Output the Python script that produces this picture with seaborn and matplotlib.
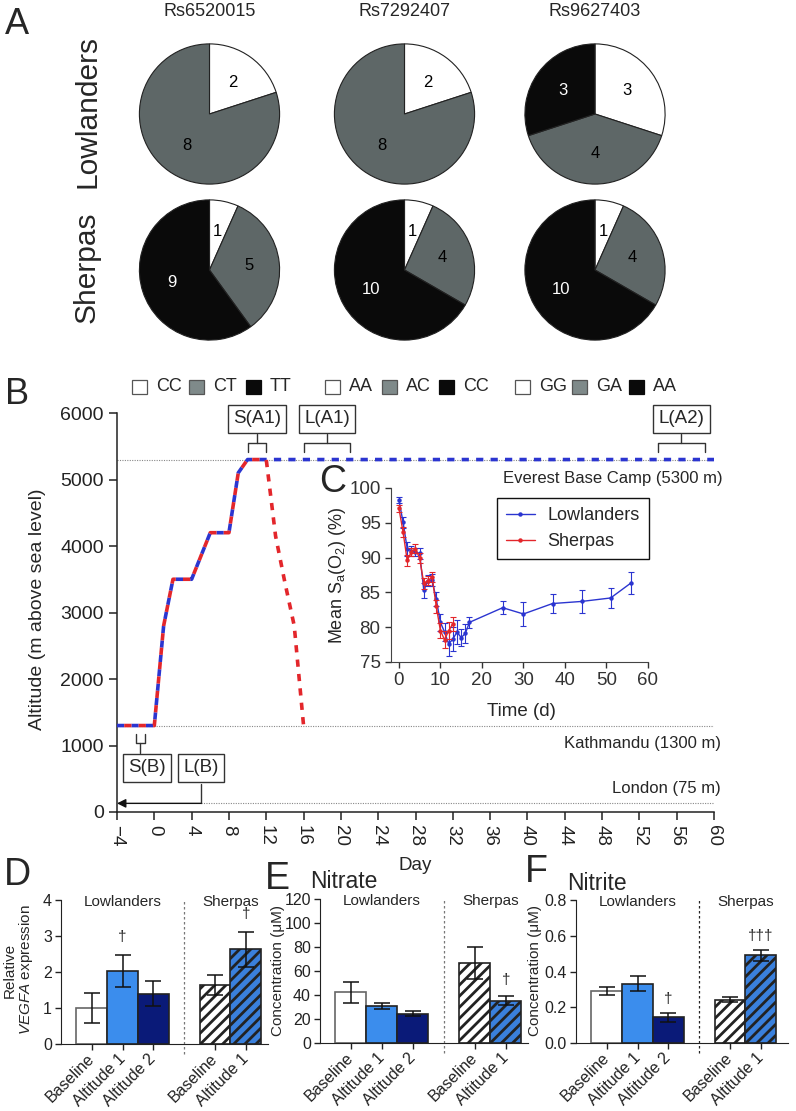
import matplotlib
matplotlib.use("Agg")
import matplotlib.pyplot as plt
from matplotlib.patches import Rectangle
from matplotlib.lines import Line2D
import pandas as pd
import seaborn as sns

# ---------------- data ----------------
snp_ids = ["Rs6520015", "Rs7292407", "Rs9627403"]
snp_genotypes = [["CC", "CT", "TT"], ["AA", "AC", "CC"], ["GG", "GA", "AA"]]
lowlander_counts = [[2, 8, 0], [2, 8, 0], [3, 4, 3]]
sherpa_counts = [[1, 5, 9], [1, 4, 10], [1, 4, 10]]

# altitude profile (panel B)
lowl_trek_day = [-4, 0, 1, 2, 4, 6, 8, 9, 10, 60]
lowl_trek_alt = [1300, 1300, 2800, 3500, 3500, 4200, 4200, 5100, 5300, 5300]
sher_trek_day = [-4, 0, 1, 2, 4, 6, 8, 9, 10, 12, 13, 14, 15, 16]
sher_trek_alt = [1300, 1300, 2800, 3500, 3500, 4200, 4200, 5100, 5300, 5300,
                 4150, 3450, 2800, 1300]
landmark_names = ["Everest Base Camp (5300 m)", "Kathmandu (1300 m)", "London (75 m)"]
landmark_line_alt = [5300, 1300, 130]

# SaO2 (panel C)
lowl_spo2_day = [0, 1, 2, 3, 4, 5, 6, 7, 8, 9, 10, 11, 12, 13, 14, 15, 16, 17,
                 25, 30, 37, 44, 51, 56]
lowl_spo2 = [98.3, 95.1, 91.3, 91.0, 90.8, 90.6, 85.3, 86.7, 86.8, 84.0, 80.7, 79.3,
             77.6, 78.3, 79.3, 78.5, 79.1, 80.7, 82.8, 81.9, 83.4, 83.7, 84.2, 86.4]
lowl_spo2_sem = [0.4, 0.8, 1.0, 0.7, 0.6, 0.8, 1.1, 0.8, 0.9, 1.0, 1.2, 1.3,
                 1.8, 1.7, 1.7, 1.2, 1.4, 0.8, 0.95, 1.7, 1.3, 1.7, 1.45, 1.6]
sher_spo2_day = [0, 1, 2, 3, 4, 5, 6, 7, 8, 9, 10, 11, 12, 13]
sher_spo2 = [97.1, 93.7, 89.6, 90.8, 91.3, 89.9, 86.3, 86.7, 87.2, 83.0, 79.5, 78.2,
             79.5, 80.5]
sher_spo2_sem = [0.5, 0.7, 0.8, 0.6, 0.6, 0.7, 0.8, 0.7, 0.7, 0.9, 1.1, 1.2, 1.2, 1.0]

# bar panels (D, E, F)
bar_keys = ["L-Baseline", "L-Altitude 1", "L-Altitude 2", "S-Baseline", "S-Altitude 1"]
bar_labels = ["Baseline", "Altitude 1", "Altitude 2", "Baseline", "Altitude 1"]
bar_order = ["L-Baseline", "L-Altitude 1", "L-Altitude 2", "", "S-Baseline", "S-Altitude 1"]
vegfa_mean = [1.00, 2.03, 1.40, 1.65, 2.63]
vegfa_sem = [0.42, 0.45, 0.35, 0.28, 0.49]
vegfa_marks = ["", "†", "", "", "†"]
nitrate_mean = [42.2, 31.0, 24.4, 66.7, 35.3]
nitrate_sem = [9.0, 2.7, 2.0, 13.3, 3.6]
nitrate_marks = ["", "", "", "", "†"]
nitrite_mean = [0.293, 0.331, 0.144, 0.243, 0.490]
nitrite_sem = [0.022, 0.042, 0.024, 0.016, 0.030]
nitrite_marks = ["", "", "†", "", "†††"]

# ---------------- style ----------------
sns.set_style("ticks")
plt.rcParams["font.family"] = ["Liberation Sans", "DejaVu Sans"]
plt.rcParams["mathtext.fontset"] = "custom"
plt.rcParams["mathtext.rm"] = "Liberation Sans"
plt.rcParams["mathtext.it"] = "Liberation Sans:italic"
plt.rcParams["hatch.linewidth"] = 2.0
plt.rcParams["axes.edgecolor"] = "#222222"
plt.rcParams["xtick.color"] = "#222222"
plt.rcParams["ytick.color"] = "#222222"

BLUE = "#2b35d0"
RED = "#e3262b"
PIE_COLORS = ["#ffffff", "#5e6767", "#0a0a0a"]
SWATCH_COLORS = ["#ffffff", "#7f8a8a", "#0a0a0a"]
bar_colors = {"L-Baseline": "#ffffff", "L-Altitude 1": "#3b8ded",
              "L-Altitude 2": "#0a1a78", "S-Baseline": "#ffffff",
              "S-Altitude 1": "#3a80dc"}
bar_edges = ["#666666", "#222222", "#222222", "#222222", "#222222"]
bar_hatches = ["", "", "", "///", "///"]

W, H = 796, 1111
fig = plt.figure(figsize=(W / 100, H / 100), dpi=100)


def axes_px(x0, y0, x1, y1):
    return fig.add_axes([x0 / W, 1 - y1 / H, (x1 - x0) / W, (y1 - y0) / H])


def fig_text(x, y, s, **kw):
    kw.setdefault("ha", "center")
    kw.setdefault("va", "center")
    return fig.text(x / W, 1 - y / H, s, **kw)


# ---------------- A: pies ----------------
R = 71.5
pie_cx = [209.5, 404.5, 595]
pie_cy = [114, 270]
for j, snp in enumerate(snp_ids):
    fig_text(pie_cx[j], 11, snp, fontsize=13)
    for i, counts in enumerate([lowlander_counts[j], sherpa_counts[j]]):
        cx, cy = pie_cx[j], pie_cy[i]
        ax = axes_px(cx - R, cy - R, cx + R, cy + R)
        vals = [c for c in counts if c > 0]
        cols = [PIE_COLORS[k] for k, c in enumerate(counts) if c > 0]
        wedges, texts = ax.pie(vals, colors=cols, startangle=90, counterclock=False,
                               labels=[str(v) for v in vals], labeldistance=0.56,
                               wedgeprops=dict(edgecolor="#222222", linewidth=0.8),
                               textprops=dict(fontsize=12, ha="center", va="center"))
        for t, c in zip(texts, cols):
            t.set_color("white" if c == PIE_COLORS[2] else "black")
        ax.set_xlim(-1.02, 1.02)
        ax.set_ylim(-1.02, 1.02)

fig_text(87, 112, "Lowlanders", fontsize=21.5, rotation=90)
fig_text(87, 267, "Sherpas", fontsize=21.5, rotation=90)
fig_text(17, 24, "A", fontsize=26)

# genotype legend row
group_x = [132, 325, 515]
for g, gts in enumerate(snp_genotypes):
    for k, gt in enumerate(gts):
        x0 = group_x[g] + 57 * k
        fig.add_artist(Rectangle((x0 / W, 1 - 394 / H), 15 / W, 14 / H,
                                 transform=fig.transFigure, facecolor=SWATCH_COLORS[k],
                                 edgecolor="#555555" if k < 2 else "#0a0a0a", lw=0.9))
        fig_text(x0 + 24, 387, gt, fontsize=13, ha="left")

# ---------------- B: altitude ----------------
axB = axes_px(117, 413, 714, 812)
fig_text(17, 395, "B", fontsize=26)
for alt, x0 in zip(landmark_line_alt, [-4, -4, 5]):
    axB.plot([x0, 60], [alt, alt], color="#888888", lw=0.8, ls=(0, (1, 1.2)), zorder=1)
sns.lineplot(x=lowl_trek_day, y=lowl_trek_alt, ax=axB, color=BLUE, lw=2.6,
             linestyle=(0, (2, 2)), errorbar=None, sort=False, zorder=3)
sns.lineplot(x=sher_trek_day, y=sher_trek_alt, ax=axB, color=RED, lw=2.6,
             linestyle=(2, (2, 2)), errorbar=None, sort=False, zorder=4)
axB.set_xlim(-4, 60)
axB.set_ylim(0, 6000)
axB.set_xticks(range(-4, 61, 4))
axB.set_yticks(range(0, 6001, 1000))
axB.tick_params(axis="x", labelrotation=-90, labelsize=13.5, length=6, width=1.1)
axB.tick_params(axis="y", labelsize=14, length=6, width=1.1)
for s in ["left", "bottom"]:
    axB.spines[s].set_linewidth(1.1)
sns.despine(ax=axB)
axB.set_xlabel("")
axB.set_ylabel("")
fig_text(38, 609, "Altitude (m above sea level)", fontsize=14, rotation=90)
fig_text(415, 866, "Day", fontsize=13.5)

axB.text(60.9, 5022, landmark_names[0], ha="right", va="center", fontsize=12, clip_on=False)
axB.text(60.7, 1037, landmark_names[1], ha="right", va="center", fontsize=12, clip_on=False)
axB.text(60.7, 346, landmark_names[2], ha="right", va="center", fontsize=12, clip_on=False)

box = dict(boxstyle="square,pad=0.28", fc="white", ec="#333333", lw=1.0)
bk = dict(color="#333333", lw=1.0, clip_on=False)
for label, xc, lo, hi in [("S(A1)", 11, 10, 12), ("L(A1)", 18.5, 16, 21), ("L(A2)", 56.5, 54, 59)]:
    axB.text(xc, 5910, label, ha="center", va="center", fontsize=13.5, bbox=box, clip_on=False)
    axB.plot([xc, xc], [5684, 5549], **bk)
    axB.plot([lo, lo, hi, hi], [5414, 5549, 5549, 5414], **bk)
axB.text(-0.75, 662, "S(B)", ha="center", va="center", fontsize=13.5, bbox=box, clip_on=False)
axB.plot([-2, -2, -1, -1], [1173, 1038, 1038, 1173], **bk)
axB.plot([-1.5, -1.5], [1038, 887], **bk)
axB.text(5, 662, "L(B)", ha="center", va="center", fontsize=13.5, bbox=box, clip_on=False)
axB.plot([5, 5], [421, landmark_line_alt[2]], **bk)
axB.annotate("", xy=(-4, landmark_line_alt[2]), xytext=(5, landmark_line_alt[2]),
             arrowprops=dict(arrowstyle="-|>", color="#111111", lw=1.0,
                             mutation_scale=13, shrinkA=0, shrinkB=0))

# ---------------- C: SaO2 inset ----------------
axC = axes_px(391, 488, 648, 662)
fig_text(333, 482, "C", fontsize=27)
sns.lineplot(x=lowl_spo2_day, y=lowl_spo2, ax=axC, color=BLUE, lw=1.0, marker="o",
             ms=3.2, mew=0, errorbar=None, zorder=3)
axC.errorbar(lowl_spo2_day, lowl_spo2, yerr=lowl_spo2_sem, fmt="none", ecolor=BLUE,
             elinewidth=0.8, capsize=2, capthick=0.8, zorder=3)
sns.lineplot(x=sher_spo2_day, y=sher_spo2, ax=axC, color=RED, lw=1.0, marker="o",
             ms=3.2, mew=0, errorbar=None, zorder=4)
axC.errorbar(sher_spo2_day, sher_spo2, yerr=sher_spo2_sem, fmt="none", ecolor=RED,
             elinewidth=0.8, capsize=2, capthick=0.8, zorder=4)
axC.set_xlim(-1.9, 60)
axC.set_ylim(75, 100)
axC.set_xticks(range(0, 61, 10))
axC.set_yticks(range(75, 101, 5))
axC.tick_params(labelsize=13.5, length=4, width=1.0, colors="#333333")
axC.set_facecolor("none")
sns.despine(ax=axC)
for s in ["left", "bottom"]:
    axC.spines[s].set_color("#444444")
axC.set_xlabel("")
axC.set_ylabel("")
fig_text(521, 712, "Time (d)", fontsize=13.5)
fig_text(338, 575, r"Mean S$_\mathrm{a}$(O$_2$) (%)", fontsize=13, rotation=90)
handles = [Line2D([], [], color=BLUE, lw=1.0, marker="o", ms=3.2, mew=0),
           Line2D([], [], color=RED, lw=1.0, marker="o", ms=3.2, mew=0)]
leg = axC.legend(handles, ["Lowlanders", "Sherpas"], loc="upper left",
                 bbox_to_anchor=(497 / W, 1 - 498 / H), bbox_transform=fig.transFigure,
                 fontsize=13, frameon=True, fancybox=False, edgecolor="#111111",
                 borderaxespad=0, handlelength=1.6, borderpad=0.5, labelspacing=0.5,
                 handletextpad=0.7)
leg.get_frame().set_linewidth(1.0)
leg.get_frame().set_alpha(1)


# ---------------- D, E, F: bars ----------------
def bar_panel(rect, xmax, means, sems, marks, ymax, yticks, ticklabels, mark_off, div_color):
    ax = axes_px(*rect)
    df = pd.DataFrame({"group": bar_keys, "value": means})
    sns.barplot(data=df, x="group", y="value", order=bar_order, hue="group",
                hue_order=bar_keys, palette=bar_colors, width=1.0, errorbar=None,
                saturation=1, legend=False, ax=ax)
    for p in ax.patches:
        pos = int(round(p.get_x() + p.get_width() / 2))
        i = bar_keys.index(bar_order[pos])
        p.set_edgecolor(bar_edges[i])
        p.set_hatch(bar_hatches[i])
        p.set_linewidth(1.2)
    xs = [bar_order.index(k) for k in bar_keys]
    ax.errorbar(xs, means, yerr=sems, fmt="none", ecolor="#111111", elinewidth=1.1,
                capsize=6, capthick=1.1, zorder=4)
    for x, m, s, mk in zip(xs, means, sems, marks):
        if mk:
            ax.text(x, m + s + mark_off * ymax, mk, ha="center", va="center", fontsize=11)
    gap = bar_order.index("")
    ax.plot([gap, gap], [-0.07 * ymax, ymax], color=div_color, lw=0.9,
            ls=(0, (2, 2)), clip_on=False)
    ax.text(1, ymax * 0.985, "Lowlanders", ha="center", va="center", fontsize=11)
    ax.text(4.5, ymax * 0.985, "Sherpas", ha="center", va="center", fontsize=11)
    ax.set_xlim(-1, xmax)
    ax.set_ylim(0, ymax)
    ax.set_yticks(yticks)
    ax.set_yticklabels(ticklabels)
    ax.set_xticks(xs)
    ax.set_xticklabels(bar_labels, rotation=45, ha="right", va="center",
                       rotation_mode="anchor")
    ax.tick_params(axis="y", labelsize=11.5, length=4.5, width=1.0, pad=2)
    ax.tick_params(axis="x", labelsize=11.5, length=4, width=1.0, pad=5)
    ax.set_xlabel("")
    ax.set_ylabel("")
    sns.despine(ax=ax)
    return ax


bar_panel((61, 900, 268, 1044), 5.72, vegfa_mean, vegfa_sem, vegfa_marks, 4,
          [0, 1, 2, 3, 4], ["0", "1", "2", "3", "4"], 0.12, "#777777")
fig_text(17, 875, "D", fontsize=27)
fig_text(10, 970, "Relative", fontsize=11, rotation=90)
fig_text(26, 970, r"$\mathit{VEGFA}$ expression", fontsize=11, rotation=90)

bar_panel((320, 899, 528, 1043), 5.71, nitrate_mean, nitrate_sem, nitrate_marks, 120,
          [0, 20, 40, 60, 80, 100, 120], ["0", "20", "40", "60", "80", "100", "120"],
          0.11, "#777777")
fig_text(277, 879, "E", fontsize=27)
fig_text(310, 882, "Nitrate", fontsize=16.5, ha="left")
fig_text(278, 971, "Concentration (μM)", fontsize=11, rotation=90)

bar_panel((576, 900, 788, 1043), 5.88, nitrite_mean, nitrite_sem, nitrite_marks, 0.8,
          [0, 0.2, 0.4, 0.6, 0.8], ["0.0", "0.2", "0.4", "0.6", "0.8"], 0.1, "#222222")
fig_text(536, 872, "F", fontsize=27)
fig_text(567, 883, "Nitrite", fontsize=16.5, ha="left")
fig_text(535, 971, "Concentration (μM)", fontsize=11, rotation=90)

fig.savefig("out.png", dpi=100)
